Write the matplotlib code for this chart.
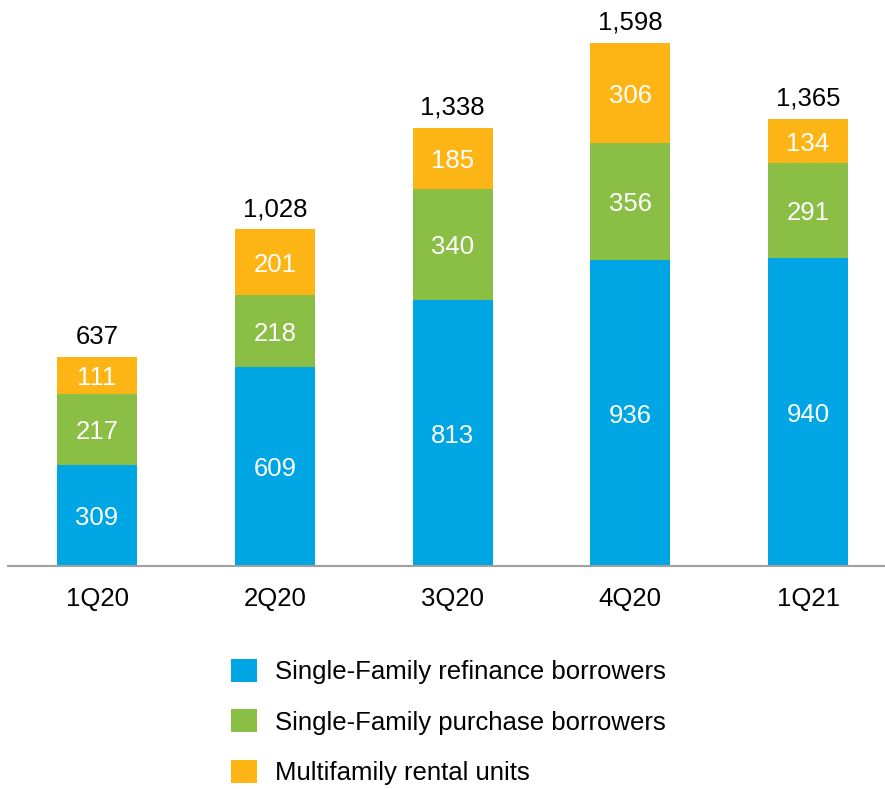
import matplotlib.pyplot as plt
import numpy as np

plt.rcParams['font.family'] = ['Liberation Sans', 'DejaVu Sans']

quarters = ["1Q20", "2Q20", "3Q20", "4Q20", "1Q21"]
sf_refinance = [309, 609, 813, 936, 940]
sf_purchase = [217, 218, 340, 356, 291]
mf_rental = [111, 201, 185, 306, 134]
totals = [637, 1028, 1338, 1598, 1365]

series = [
    ("Single-Family refinance borrowers", sf_refinance, "#00A5E3"),
    ("Single-Family purchase borrowers", sf_purchase, "#8BBE45"),
    ("Multifamily rental units", mf_rental, "#FDB515"),
]

FS = 18.5

fig = plt.figure(figsize=(8.85, 7.89), dpi=100)
ax = fig.add_axes([8 / 885, 1 - 566 / 789, 877 / 885, 566 / 789])

x = np.arange(len(quarters))
bottom = np.zeros(len(quarters))
handles = []
for label, vals, color in series:
    vals = np.array(vals)
    bars = ax.bar(x, vals, width=0.45, bottom=bottom, color=color, label=label)
    handles.append(bars)
    for xi, b, v in zip(x, bottom, vals):
        ax.annotate(f"{v:,}", (xi, b + v / 2), xytext=(0, -2), textcoords="offset points",
                    ha="center", va="center", color="white", fontsize=FS)
    bottom += vals

for xi, b, t in zip(x, bottom, totals):
    ax.annotate(f"{t:,}", (xi, b), xytext=(0, 6), textcoords="offset points",
                ha="center", va="bottom", fontsize=FS, color="black")

ax.set_xlim(-0.5007, 4.433)
ax.set_ylim(0, 1729)
ax.set_xticks(x)
ax.set_xticklabels(quarters, fontsize=FS)
ax.tick_params(axis="x", length=0, pad=15)
ax.set_yticks([])
for side in ["top", "right", "left"]:
    ax.spines[side].set_visible(False)
ax.spines["bottom"].set_color("#A0A0A0")
ax.spines["bottom"].set_linewidth(1.5)

fig.legend(handles=handles, loc="upper left", bbox_to_anchor=(231 / 885, 1 - 659 / 789),
           frameon=False, fontsize=FS, handlelength=1.0, handleheight=1.0,
           handletextpad=0.7, labelspacing=0.98, borderaxespad=0, borderpad=0)

fig.savefig("out.png", dpi=100)
